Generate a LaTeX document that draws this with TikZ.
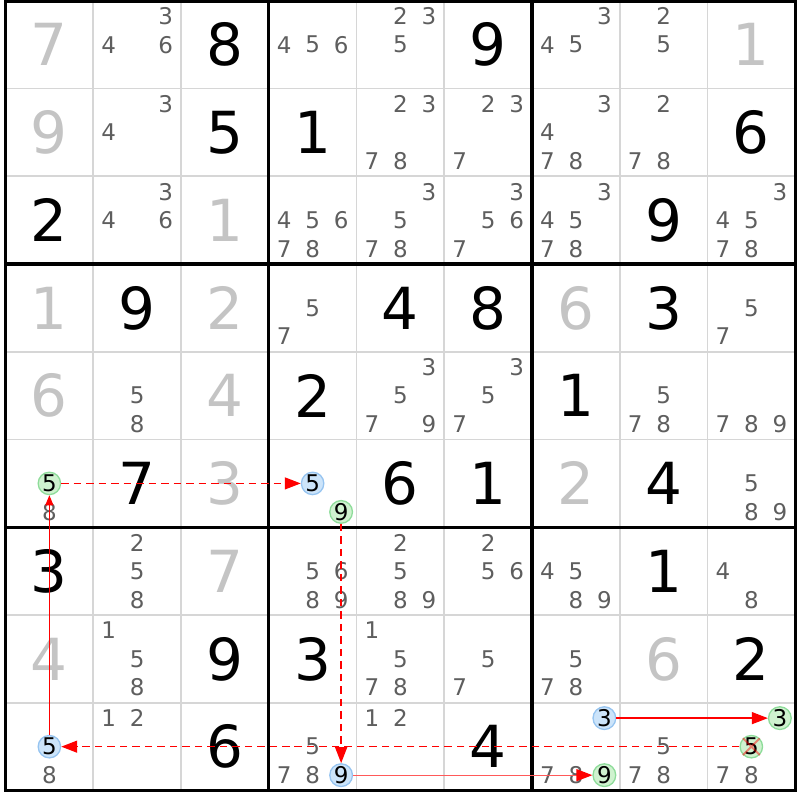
\documentclass[tikz,border=0pt]{standalone}
\usepackage{fontspec}
\setmainfont{DejaVu Sans}
\usetikzlibrary{arrows.meta}
\definecolor{candgrey}{HTML}{5E5E5E}
\definecolor{solvedgrey}{HTML}{C4C4C4}
\definecolor{gridgrey}{HTML}{D6D6D6}
\definecolor{onfill}{HTML}{CFF2CF}
\definecolor{ondraw}{HTML}{8EDC9A}
\definecolor{offfill}{HTML}{CCE4FA}
\definecolor{offdraw}{HTML}{96C4F0}
\begin{document}
\begin{tikzpicture}[x=87.75pt, y=-87.75pt,
		given/.style={font=\fontsize{58}{58}\selectfont, text=black},
		solved/.style={font=\fontsize{58}{58}\selectfont, text=solvedgrey},
		cand/.style={font=\fontsize{23}{23}\selectfont, text=candgrey, inner sep=0pt},
		hit/.style={circle, inner sep=0pt, line width=1.3pt, font=\fontsize{23}{23}\selectfont, text=black},
		onnode/.style={hit, fill=onfill, draw=ondraw},
		offnode/.style={hit, fill=offfill, draw=offdraw},
		weaklink/.style={draw, red, line width=1.4pt, dash pattern=on 7.5pt off 5pt, -{Triangle[length=16pt, width=12pt]}},
		stronglink/.style={draw, red, line width=1.3pt, -{Triangle[length=16pt, width=12pt]}}]
	\useasboundingbox (-0.0627, -0.0091) rectangle (9.054, 9.108);
	\foreach \i in {1, 2, 4, 5, 7, 8} {
		\path[draw, gridgrey, line width=1.8pt] (\i, 0) -- (\i, 9);
		\path[draw, gridgrey, line width=1.8pt] (0, \i) -- (9, \i);
	}
	\foreach \i in {3, 6} {
		\path[draw, line width=3.4pt] (\i, 0) -- (\i, 9);
		\path[draw, line width=3.4pt] (0, \i) -- (9, \i);
	}
	\path[draw, line width=3.4pt] (0, 0) rectangle (9, 9);
	\foreach \r/\c/\d in {1/3/8, 1/6/9, 2/3/5, 2/4/1, 2/9/6, 3/1/2, 3/8/9, 4/2/9, 4/5/4, 4/6/8, 4/8/3,
			5/4/2, 5/7/1, 6/2/7, 6/5/6, 6/6/1, 6/8/4, 7/1/3, 7/8/1, 8/3/9, 8/4/3, 8/9/2, 9/3/6, 9/6/4}
		\node[given] (g\r\c) at (\c-0.5, \r-0.5) {\d};
	\foreach \r/\c/\d in {1/1/7, 1/9/1, 2/1/9, 3/3/1, 4/1/1, 4/3/2, 4/7/6, 5/1/6, 5/3/4, 6/3/3, 6/7/2, 7/3/7, 8/1/4, 8/8/6}
		\node[solved] (s\r\c) at (\c-0.5, \r-0.5) {\d};
	\foreach \r/\c/\cands in {1/2/{3,4,6}, 1/4/{4,5,6}, 1/5/{2,3,5}, 1/7/{3,4,5}, 1/8/{2,5},
			2/2/{3,4}, 2/5/{2,3,7,8}, 2/6/{2,3,7}, 2/7/{3,4,7,8}, 2/8/{2,7,8},
			3/2/{3,4,6}, 3/4/{4,5,6,7,8}, 3/5/{3,5,7,8}, 3/6/{3,5,6,7}, 3/7/{3,4,5,7,8}, 3/9/{3,4,5,7,8},
			4/4/{5,7}, 4/9/{5,7},
			5/2/{5,8}, 5/5/{3,5,7,9}, 5/6/{3,5,7}, 5/8/{5,7,8}, 5/9/{7,8,9},
			6/1/{8}, 6/9/{5,8,9},
			7/2/{2,5,8}, 7/4/{5,6,8,9}, 7/5/{2,5,8,9}, 7/6/{2,5,6}, 7/7/{4,5,8,9}, 7/9/{4,8},
			8/2/{1,5,8}, 8/5/{1,5,7,8}, 8/6/{5,7}, 8/7/{5,7,8},
			9/1/{8}, 9/2/{1,2}, 9/4/{5,7,8}, 9/5/{1,2}, 9/7/{7,8}, 9/8/{5,7,8}, 9/9/{7,8}} {
		\foreach \k in \cands {
			\pgfmathsetmacro{\dx}{mod(\k-1,3)-1}
			\pgfmathsetmacro{\dy}{div(\k-1,3)-1}
			\node[cand] (p\r\c\k) at ({\c-0.5+0.325*\dx}, {\r-0.5+0.325*\dy}) {\k};
		}
	}
	\node[onnode] (r6c1n5) at (0.5, 5.5) {5};
	\node[offnode] (r6c4n5) at (3.5, 5.5) {5};
	\node[onnode] (r6c4n9) at (3.825, 5.825) {9};
	\node[offnode] (r9c4n9) at (3.825, 8.825) {9};
	\node[onnode] (r9c7n9) at (6.825, 8.825) {9};
	\node[offnode] (r9c7n3) at (6.825, 8.175) {3};
	\node[onnode] (r9c9n3) at (8.825, 8.175) {3};
	\node[onnode] (r9c9n5) at (8.5, 8.5) {5};
	\node[offnode] (r9c1n5) at (0.5, 8.5) {5};
	\path[weaklink] (r6c1n5) -- (r6c4n5);
	\path[weaklink] (r6c4n9) -- (r9c4n9);
	\path[stronglink, red!65, -{Triangle[length=16pt, width=12pt, red]}] (r9c4n9) -- (r9c7n9);
	\path[stronglink] (r9c7n3) -- (r9c9n3);
	\path[weaklink] (r9c9n5) -- (r9c1n5);
	\path[draw, red, line width=0.9pt, -{Triangle[length=10pt, width=8pt]}] (r9c1n5) -- (r6c1n5);
	\path[draw, red, opacity=0.45, line width=2pt] (r9c9n5.45) -- (r9c9n5.225) (r9c9n5.135) -- (r9c9n5.315);
\end{tikzpicture}
\end{document}
